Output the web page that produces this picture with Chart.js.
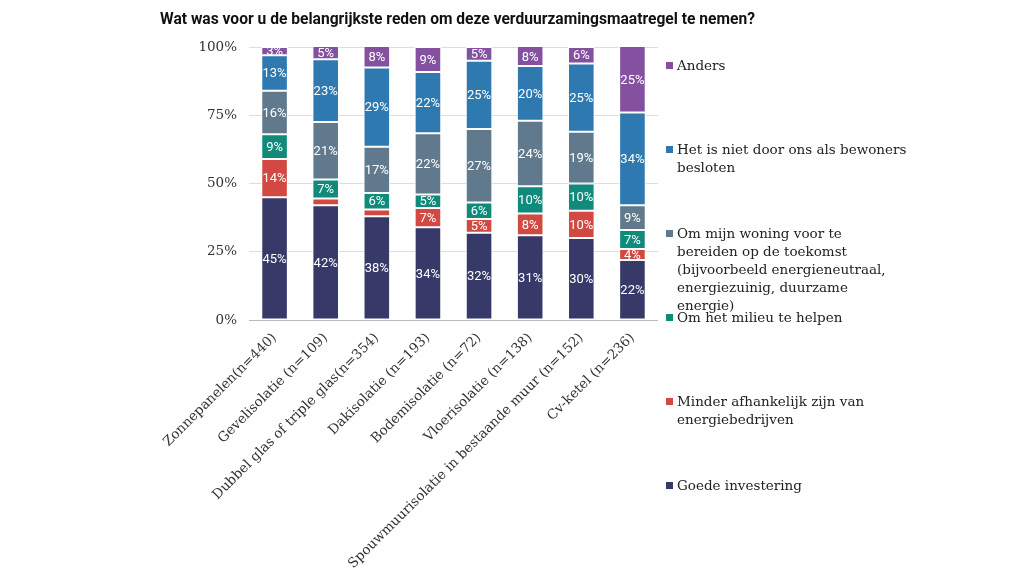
<!DOCTYPE html>
<html>
<head>
<meta charset="utf-8">
<script src="https://cdn.jsdelivr.net/npm/chart.js@4.4.1/dist/chart.umd.min.js"></script>
<style>
body{margin:0;background:#fff;}
#wrap{position:relative;width:1030px;height:580px;overflow:hidden;}
#title{position:absolute;left:160px;top:10px;font:bold 15.6px Roboto,sans-serif;color:#111;white-space:nowrap;}
#legend{position:absolute;left:664px;top:0;}
.item{position:absolute;left:0;width:320px;padding-left:13px;font:13.5px "DejaVu Serif",serif;color:#222;line-height:18px;}
.item .box{position:absolute;left:2px;top:6px;width:7px;height:7px;}
</style>
</head>
<body>
<div id="wrap">
<canvas id="chart" width="1030" height="580"></canvas>
<div id="title"></div>
<div id="legend"></div>
</div>
<script>
const title="Wat was voor u de belangrijkste reden om deze verduurzamingsmaatregel te nemen?";

const categories=[
"Zonnepanelen(n=440)",
"Gevelisolatie (n=109)",
"Dubbel glas of triple glas(n=354)",
"Dakisolatie (n=193)",
"Bodemisolatie (n=72)",
"Vloerisolatie (n=138)",
"Spouwmuurisolatie in bestaande muur (n=152)",
"Cv-ketel (n=236)"
];

const yTicks=[0,25,50,75,100];

// series, bottom to top
const goedeInvestering=[45,42,38,34,32,31,30,22];
const minderAfhankelijk=[14,2.5,2.5,7,5,8,10,4];
const milieu=[9,7,6,5,6,10,10,7];
const woningToekomst=[16,21,17,22.4,27,24,19,9];
const nietDoorOns=[13,23,29,22.4,25,20,25,34];
const anders=[3,5,8,9.2,5,8,6,25];

const seriesNames=[
["Goede investering"],
["Minder afhankelijk zijn van","energiebedrijven"],
["Om het milieu te helpen"],
["Om mijn woning voor te","bereiden op de toekomst","(bijvoorbeeld energieneutraal,","energiezuinig, duurzame","energie)"],
["Het is niet door ons als bewoners","besloten"],
["Anders"]
];
const seriesValues=[goedeInvestering,minderAfhankelijk,milieu,woningToekomst,nietDoorOns,anders];
const colors=["#373a68","#d14942","#0f8a7b","#60798c","#2d79b0","#8451a0"];

document.getElementById("title").innerText=title;

let datasets=seriesValues.map((vals,i)=>({
label:seriesNames[i].join(" "),
data:vals,
backgroundColor:colors[i],
borderColor:"#fff",
borderWidth:1,
borderSkipped:false,
barPercentage:0.52,
categoryPercentage:1
}));

// white % labels inside the segments
const segmentLabels={
id:"segmentLabels",
afterDatasetsDraw(chart){
let ctx=chart.ctx;
ctx.save();
ctx.font="13px Roboto";
ctx.fillStyle="#fff";
ctx.textAlign="center";
ctx.textBaseline="middle";
chart.data.datasets.forEach((ds,i)=>{
let meta=chart.getDatasetMeta(i);
meta.data.forEach((bar,j)=>{
let v=ds.data[j];
if(v<3) return;
let top=Math.max(bar.y,chart.chartArea.top);
ctx.fillText(Math.round(v)+"%",bar.x,(top+bar.base)/2+1);
});
});
ctx.restore();
}
};

new Chart(document.getElementById("chart"),{
type:"bar",
data:{labels:categories,datasets:datasets},
options:{
responsive:false,
animation:false,
layout:{padding:{left:160,right:372,top:47,bottom:0}},
plugins:{
legend:{display:false},
tooltip:{enabled:false},
title:{display:false}
},
scales:{
x:{
stacked:true,
grid:{display:false},
border:{display:false},
afterFit(scale){
scale.height=260;
},
ticks:{
color:"#333",
font:{family:"DejaVu Serif",size:13.5},
minRotation:45,
maxRotation:45,
autoSkip:false,
padding:2
}
},
y:{
stacked:true,
min:0,
max:100,
afterBuildTicks(scale){
scale.ticks=yTicks.map(v=>({value:v}));
},
afterFit(scale){
scale.width=89;
},
border:{display:false},
grid:{
color:c=>c.tick.value===0?"#bbb":"#ddd",
drawTicks:false
},
ticks:{
color:"#333",
font:{family:"DejaVu Serif",size:13.5},
padding:12,
callback:v=>v+"%"
}
}
}
},
plugins:[segmentLabels]
});

// legend on the right, top item first
let legend=document.getElementById("legend");
let order=[5,4,3,2,1,0];
order.forEach((s,k)=>{
let div=document.createElement("div");
div.className="item";
div.style.top=(56+k*84)+"px";
div.innerHTML='<span class="box" style="background:'+colors[s]+'"></span>'+seriesNames[s].join("<br>");
legend.appendChild(div);
});
</script>
</body>
</html>
